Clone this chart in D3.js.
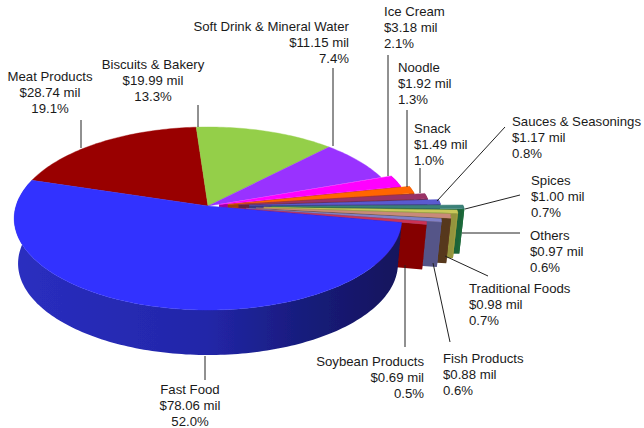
<!DOCTYPE html>
<html><head><meta charset="utf-8">
<script src="https://cdn.jsdelivr.net/npm/d3@7"></script>
<style>html,body{margin:0;background:#fff}svg{display:block}</style>
</head><body><div id="c"></div>
<script>
const categories=["Fast Food","Meat Products","Biscuits & Bakery","Soft Drink & Mineral Water","Ice Cream","Noodle","Snack","Sauces & Seasonings","Spices","Others","Traditional Foods","Fish Products","Soybean Products"];
const valuesMil=[78.06,28.74,19.99,11.15,3.18,1.92,1.49,1.17,1.00,0.97,0.98,0.88,0.69];
const percents=[52.0,19.1,13.3,7.4,2.1,1.3,1.0,0.8,0.7,0.6,0.7,0.6,0.5];
const topColors=["#3333ff","#990000","#94cf4a","#9933ff","#ff00ff","#ff6600","#993366","#5a5ad0","#3a8078","#c8c85a","#c98a7a","#8080c8","#cc3355"];
const sideColors=["#2226b0","#660000","#5f8a2c","#6622aa","#aa00aa","#aa4400","#662244","#3c3c8c","#1c6a3a","#9c9c40","#5c3a1c","#5a5a90","#8c0000"];
const explode=[0,0,0,0,0.06,0.105,0.16,0.215,0.33,0.29,0.25,0.2,0.125];
// [text x, anchor, first baseline, leader x1,y1,x2,y2]
const labelLayout=[
[190,"middle",394,205,356,205,380],
[50,"middle",81,81,148,81,120],
[153,"middle",69,198,127,198,105],
[349,"end",31,333,146,333,68],
[384,"start",16,388,176,388,55],
[398,"start",72,407,187,407,110],
[414,"start",133,420,193,420,168],
[512,"start",126,437,201,505,127],
[531,"start",185,465,209,520,195],
[530,"start",240,462,233,520,233],
[469,"start",293,445,256,488,276],
[443,"start",363,433,263,450,342],
[424,"end",366,405,265,405,347]];

const W=644,H=428,ax=208,ay=206,B=192,A=89.8,K=0.1366,depth=45,shrink=0.98;
const svg=d3.select("#c").append("svg").attr("width",W).attr("height",H);
const defs=svg.append("defs");
defs.append("filter").attr("id","soft").attr("x","-5%").attr("y","-5%").attr("width","110%").attr("height","110%")
  .append("feGaussianBlur").attr("stdDeviation",0.45);
const grad=defs.append("linearGradient").attr("id","rimBlue").attr("gradientUnits","userSpaceOnUse").attr("x1",14).attr("x2",400).attr("y1",0).attr("y2",0);
[[0,"#2a2ec0"],[0.5,"#2226a8"],[0.75,"#181c7c"],[1,"#12145c"]].forEach(s=>grad.append("stop").attr("offset",s[0]).attr("stop-color",s[1]));

const toXY=(u,v)=>{const w=1+K*v;return [ax+B*u/w, ay-A*v/w];};
const down=p=>[ax+(p[0]-ax)*shrink,p[1]+depth];
const line=d3.line();
const start=-72.5*Math.PI/180-(percents[0]/100)*2*Math.PI;
const arcs=d3.pie().sort(null).value(d=>d).startAngle(start).endAngle(start+2*Math.PI)(percents);

function geom(a,i){
  const mid=(a.startAngle+a.endAngle)/2,e=explode[i];
  const ou=e*Math.sin(mid),ov=e*Math.cos(mid);
  const ts=d3.range(0,1.0001,1/Math.max(2,Math.ceil((a.endAngle-a.startAngle)/0.02)));
  const rim=ts.map(t=>{const th=a.startAngle+t*(a.endAngle-a.startAngle);return toXY(ou+Math.sin(th),ov+Math.cos(th));});
  return {apex:toXY(ou,ov),rim};
}
const g=svg.append("g").attr("filter","url(#soft)");
const order=[1,2,3,4,5,6,7,8,9,10,11,12,0];
order.forEach(i=>{
  const s=geom(arcs[i],i);
  const side=i===0?"url(#rimBlue)":sideColors[i];
  const rimP=s.rim.concat(s.rim.slice().reverse().map(down));
  if(i===0||i>=4){
    const last=s.rim[s.rim.length-1];
    if(i>=4){
      g.append("path").attr("d",line([s.apex,last,down(last),down(s.apex)])+"Z").attr("fill",d3.color(side).darker(0.15));
    }
    g.append("path").attr("d",line(rimP)+"Z").attr("fill",side);
  }
  g.append("path").attr("d",line([s.apex,...s.rim])+"Z").attr("fill",topColors[i]).attr("stroke",topColors[i]).attr("stroke-width",0.4);
});
const lab=svg.append("g").attr("font-family","'Liberation Sans',Arial,sans-serif").attr("font-size",13.2).attr("fill","#1a1a1a");
categories.forEach((c,i)=>{
  const L=labelLayout[i];
  svg.append("line").attr("x1",L[3]).attr("y1",L[4]).attr("x2",L[5]).attr("y2",L[6]).attr("stroke","#222").attr("stroke-width",1);
  [c,`$${valuesMil[i].toFixed(2)} mil`,`${percents[i].toFixed(1)}%`].forEach((t,j)=>
    lab.append("text").attr("x",L[0]).attr("y",L[2]+j*15.8).attr("text-anchor",L[1]).text(t));
});
</script></body></html>
